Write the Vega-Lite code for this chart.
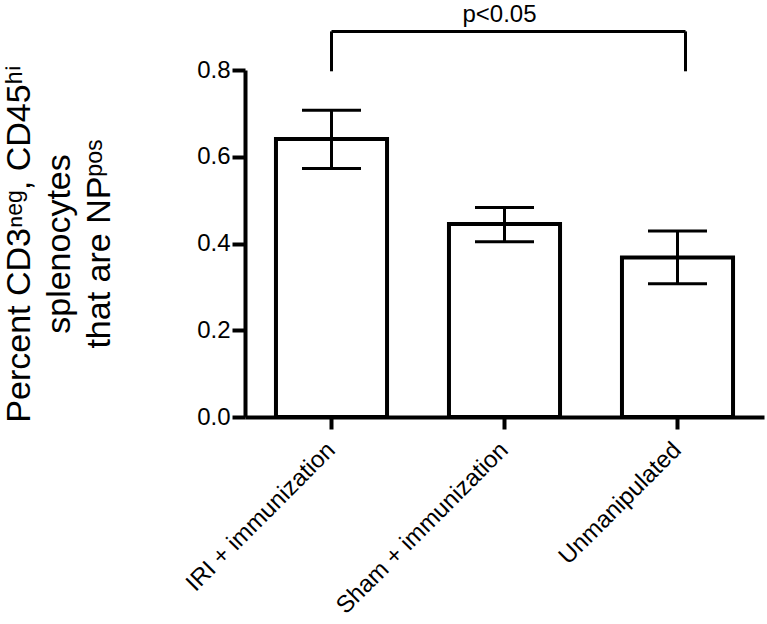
{
  "$schema": "https://vega.github.io/schema/vega-lite/v6.json",
  "width": 519,
  "height": 347,
  "autosize": "none",
  "padding": {"left": 245, "top": 70, "right": 3, "bottom": 207},
  "config": {
    "view": {"stroke": null},
    "font": "Liberation Sans",
    "axis": {
      "domainColor": "black", "tickColor": "black", "labelColor": "black", "titleColor": "black",
      "domainWidth": 4, "tickWidth": 4, "grid": false, "labelLimit": 0,
      "labelFont": "Liberation Sans", "titleFont": "Liberation Sans", "titleFontWeight": "normal"
    },
    "axisX": {"labelAngle": -45, "labelAlign": "right", "labelBaseline": "middle", "labelFontSize": 24, "tickSize": 12, "labelPadding": 17},
    "axisY": {"labelFontSize": 24, "tickSize": 13, "labelPadding": 2, "titleFontSize": 34, "titleLineHeight": 40, "titlePadding": 80}
  },
  "datasets": {
    "bars": [
      {"group": "IRI + immunization", "mean": 0.641, "lo": 0.573, "hi": 0.707},
      {"group": "Sham + immunization", "mean": 0.445, "lo": 0.404, "hi": 0.483},
      {"group": "Unmanipulated", "mean": 0.368, "lo": 0.307, "hi": 0.429}
    ],
    "bracket": [
      {"from": "IRI + immunization", "to": "Unmanipulated", "mid": "Sham + immunization", "top": 0.889, "bottom": 0.797, "textY": 0.911, "label": "p<0.05"}
    ]
  },
  "layer": [
    {
      "data": {"name": "bars"},
      "mark": {"type": "bar", "fill": "white", "stroke": "black", "strokeWidth": 4, "clip": false},
      "encoding": {
        "x": {
          "field": "group", "type": "nominal", "sort": null,
          "scale": {"type": "band", "domain": ["IRI + immunization", "Sham + immunization", "Unmanipulated"], "paddingInner": 0.358, "paddingOuter": 0.179},
          "axis": {"title": null}
        },
        "y": {
          "field": "mean", "type": "quantitative",
          "scale": {"domain": [0, 0.8], "nice": false, "zero": true},
          "axis": {
            "title": ["Percent CD3ⁿᵉᵍ, CD45ʰⁱ", "splenocytes", "that are NPᵖᵒˢ"],
            "values": [0, 0.2, 0.4, 0.6, 0.8], "format": ".1f"
          }
        }
      }
    },
    {
      "data": {"name": "bars"},
      "mark": {"type": "rule", "strokeWidth": 3, "color": "black", "clip": false},
      "encoding": {
        "x": {"field": "group", "type": "nominal", "sort": null},
        "y": {"field": "lo", "type": "quantitative"},
        "y2": {"field": "hi"}
      }
    },
    {
      "data": {"name": "bars"},
      "mark": {"type": "tick", "orient": "horizontal", "size": 59, "thickness": 3, "color": "black", "opacity": 1, "clip": false},
      "encoding": {
        "x": {"field": "group", "type": "nominal", "sort": null},
        "y": {"field": "hi", "type": "quantitative"}
      }
    },
    {
      "data": {"name": "bars"},
      "mark": {"type": "tick", "orient": "horizontal", "size": 59, "thickness": 3, "color": "black", "opacity": 1, "clip": false},
      "encoding": {
        "x": {"field": "group", "type": "nominal", "sort": null},
        "y": {"field": "lo", "type": "quantitative"}
      }
    },
    {
      "data": {"name": "bracket"},
      "mark": {"type": "rule", "strokeWidth": 3, "color": "black", "clip": false, "x2Offset": 8},
      "encoding": {
        "x": {"field": "from", "type": "nominal"},
        "x2": {"field": "to"},
        "y": {"field": "top", "type": "quantitative"}
      }
    },
    {
      "data": {"name": "bracket"},
      "mark": {"type": "rule", "strokeWidth": 3, "color": "black", "clip": false},
      "encoding": {
        "x": {"field": "from", "type": "nominal"},
        "y": {"field": "bottom", "type": "quantitative"},
        "y2": {"field": "top"}
      }
    },
    {
      "data": {"name": "bracket"},
      "mark": {"type": "rule", "strokeWidth": 3, "color": "black", "clip": false, "xOffset": 8},
      "encoding": {
        "x": {"field": "to", "type": "nominal"},
        "y": {"field": "bottom", "type": "quantitative"},
        "y2": {"field": "top"}
      }
    },
    {
      "data": {"name": "bracket"},
      "mark": {"type": "text", "fontSize": 24, "baseline": "alphabetic", "align": "center", "color": "black", "dx": -5, "clip": false},
      "encoding": {
        "x": {"field": "mid", "type": "nominal"},
        "y": {"field": "textY", "type": "quantitative"},
        "text": {"field": "label"}
      }
    }
  ]
}
